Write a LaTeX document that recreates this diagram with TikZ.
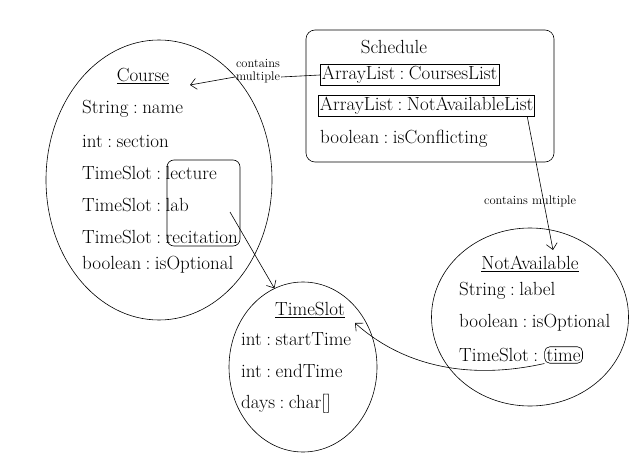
\documentclass[tikz,border=0pt]{standalone}
\usepackage{fontspec}
\usetikzlibrary{positioning,shapes.geometric,arrows.meta}
\newcommand{\attrline}[2]{#1\hspace{4.5pt}:\hspace{4.5pt}#2}
\tikzset{
  cls/.style={ellipse,draw=black,line width=0.6pt,inner sep=0pt},
  attr/.style={anchor=west,inner sep=0pt,font=\fontsize{19}{21}\selectfont},
  head/.style={inner sep=0pt,font=\fontsize{19}{21}\selectfont},
  field/.style={draw=black,line width=0.8pt,anchor=west,inner sep=1.5pt,font=\fontsize{19}{21}\selectfont},
  note/.style={inner sep=1pt,font=\fontsize{12.5}{13}\selectfont},
  link/.style={draw=black,line width=0.6pt,-{Straight Barb[length=6pt,width=11pt]}},
}
\begin{document}
\begin{tikzpicture}[x=1pt,y=-1pt]
\useasboundingbox (0,0) rectangle (639,457);
% classes
\node[cls,minimum width=226pt,minimum height=280pt] (course) at (159,180) {};
\node[cls,minimum width=148pt,minimum height=170pt] (tslot) at (303,367) {};
\node[cls,minimum width=197pt,minimum height=178pt] (navail) at (530,317) {};
\node[draw=black,line width=0.6pt,rounded corners=9pt,minimum width=248pt,minimum height=132pt] (sched) at (430,96) {};
% Course
\node[head] (courseT) at (143,76) {\underline{Course}};
\node[attr] (cname) at (82,109) {\attrline{String}{name}};
\node[attr] (csec) at (82,141) {\attrline{int}{section}};
\node[attr] (clect) at (82,173) {\attrline{TimeSlot}{lecture}};
\node[attr] (clab) at (82,205) {\attrline{TimeSlot}{lab}};
\node[attr] (crec) at (82,237) {\attrline{TimeSlot}{recitation}};
\node[attr] (copt) at (82,265) {\attrline{boolean}{isOptional}};
\draw[line width=0.6pt,rounded corners=7pt] (167,160) rectangle (240,246);
% Schedule
\node[head] (schedT) at (394,47) {Schedule};
\node[field] (clist) at (320,75) {\attrline{ArrayList}{CoursesList}};
\node[field] (nlist) at (318,106) {\attrline{ArrayList}{NotAvailableList}};
\node[attr] (sconf) at (320,139) {\attrline{boolean}{isConflicting}};
% TimeSlot
\node[head] (tslotT) at (310,310) {\underline{TimeSlot}};
\node[attr] (tstart) at (241,339) {\attrline{int}{startTime}};
\node[attr] (tend) at (241,371) {\attrline{int}{endTime}};
\node[attr] (tdays) at (241,404) {\attrline{days}{char[]}};
% NotAvailable
\node[head] (navailT) at (530,264) {\underline{NotAvailable}};
\node[attr] (nlabel) at (459,291) {\attrline{String}{label}};
\node[attr] (nopt) at (459,323) {\attrline{boolean}{isOptional}};
\node[attr] (ntime) at (459,355) {TimeSlot\hspace{4.5pt}:};
\node[draw=black,line width=0.6pt,rounded corners=5pt,inner sep=2pt,font=\fontsize{19}{21}\selectfont,right=6pt of ntime] (ntimebox) {time};
% labels
\node[note] (cmtop) at (258,63) {contains};
\node[note] (cmbot) at (258,77) {multiple};
\node[note] (nmult) at (530,201) {contains multiple};
% connectors
\coordinate (courseIn) at (190,85);
\coordinate (labOut) at (230,212);
\coordinate (slotIn) at (355,323);
\coordinate (navIn) at (553,250);
\draw[line width=0.6pt] (clist.west) -- (cmbot.east);
\draw[link] (cmbot.west) -- (courseIn);
\draw[link] (labOut) -- (tslot.110);
\draw[link] ([xshift=-8pt]nlist.south east) -- (navIn);
\draw[link] (ntimebox.south west) .. controls (480,378) and (410,372) .. (slotIn);
\end{tikzpicture}
\end{document}
